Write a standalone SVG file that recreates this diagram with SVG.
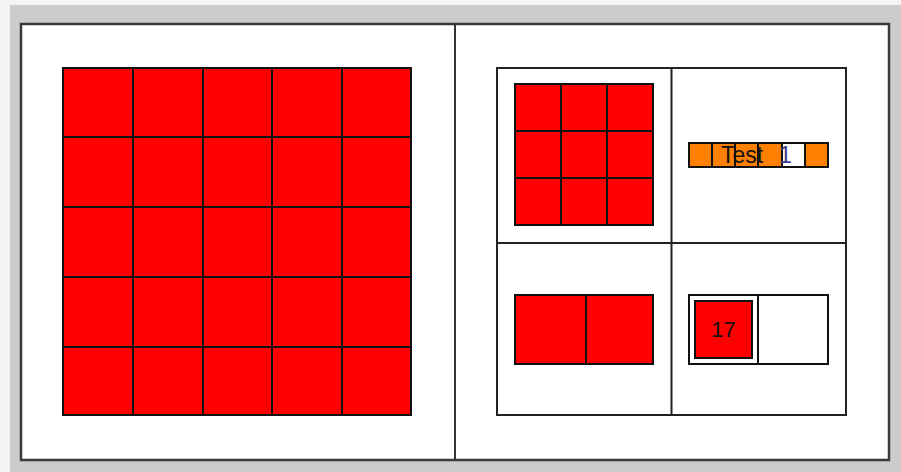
<svg xmlns="http://www.w3.org/2000/svg" width="901" height="472" viewBox="0 0 901 472">
<style>
.cell{fill:#ff0000;stroke:#111;stroke-width:2}
.org{fill:#ff8000;stroke:#111;stroke-width:2}
.wh{fill:#fff;stroke:#111;stroke-width:2}
.frame{fill:none;stroke:#222;stroke-width:2}
.ln{fill:none;stroke:#111;stroke-width:2}
.txt{font-family:"Liberation Sans",Arial,sans-serif;fill:#111}
</style>
<rect x="0" y="0" width="901" height="472" fill="#f4f4f4"/>
<rect x="10" y="5" width="891" height="467" fill="#cccccc"/>
<rect x="21" y="24" width="868" height="436" fill="#fff" stroke="#3a3a3a" stroke-width="2.5"/>
<line x1="455" y1="24" x2="455" y2="460" stroke="#333" stroke-width="2"/>
<g id="bigGrid">
<rect class="cell" x="63" y="68" width="348" height="347"/>
<path class="ln" d="M133 68V415M203 68V415M272 68V415M342 68V415M63 137H411M63 207H411M63 277H411M63 347H411"/>
</g>
<g id="table">
<rect class="frame" x="497" y="68" width="349" height="347"/>
<path d="M671.5 68V415M497 243H846" class="frame"/>
</g>
<g id="grid3">
<rect class="cell" x="515" y="84" width="138" height="141"/>
<path class="ln" d="M561 84V225M607 84V225M515 131H653M515 178H653"/>
</g>
<g id="bar">
<rect class="org" x="689" y="143" width="139" height="24"/>
<rect class="wh" x="782" y="143" width="23" height="24"/>
<path class="ln" d="M712 143V167M735 143V167M758 143V167"/>
<text class="txt" x="721" y="163" font-size="23">Test</text>
<text class="txt" x="779" y="163" font-size="23" style="fill:#3a3a8a">1</text>
</g>
<g id="pair">
<rect class="cell" x="515" y="295" width="138" height="69"/>
<line class="ln" x1="586" y1="295" x2="586" y2="364"/>
</g>
<g id="box17">
<rect class="wh" x="689" y="295" width="139" height="69"/>
<line class="ln" x1="758" y1="295" x2="758" y2="364"/>
<rect class="cell" x="695" y="301" width="57" height="57"/>
<text class="txt" x="723.5" y="337" font-size="22" text-anchor="middle">17</text>
</g>
</svg>
